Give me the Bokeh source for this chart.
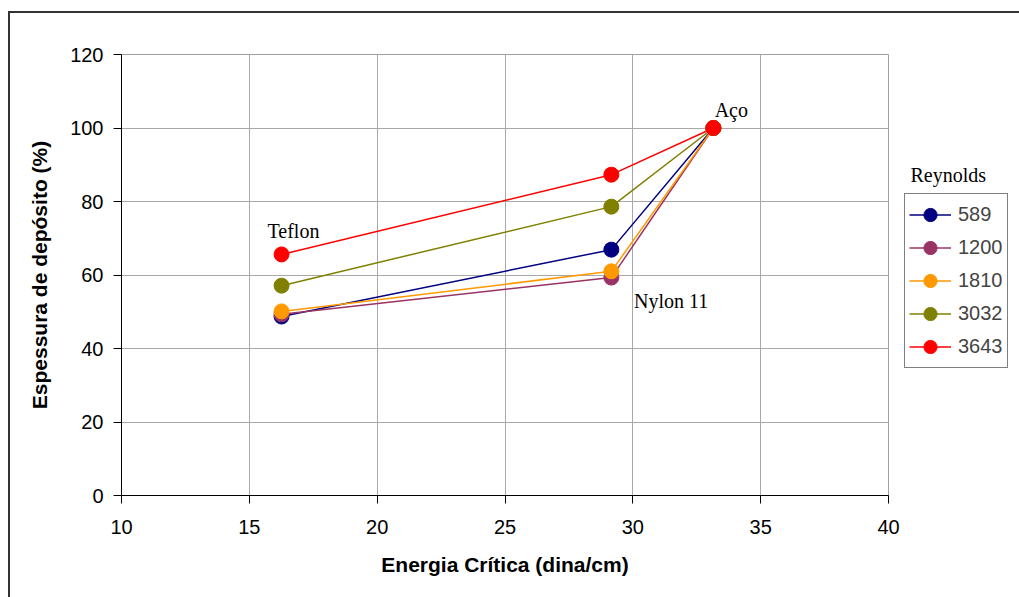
from bokeh.plotting import figure
from bokeh.models import Legend, LegendItem, Label, FixedTicker, Range1d
from bokeh.embed import file_html
from bokeh.resources import INLINE

energia = [16.26, 29.16, 33.15]
series_names = ["589", "1200", "1810", "3032", "3643"]
series_vals = {
    "589": [48.7, 66.9, 100.0],
    "1200": [49.3, 59.3, 100.0],
    "1810": [50.1, 61.0, 100.0],
    "3032": [57.1, 78.6, 100.0],
    "3643": [65.6, 87.3, 100.0],
}
colors = {"589": "#000080", "1200": "#993366", "1810": "#FF9900",
          "3032": "#808000", "3643": "#FF0000"}
x_ticks = [10, 15, 20, 25, 30, 35, 40]
y_ticks = [0, 20, 40, 60, 80, 100, 120]
material_labels = ["Teflon", "Nylon 11", "Aço"]
legend_title = "Reynolds"

p = figure(frame_width=767, frame_height=441, output_backend="svg",
           toolbar_location=None,
           x_range=Range1d(10, 40), y_range=Range1d(0, 120),
           min_border_left=111, min_border_right=131, min_border_top=41,
           min_border_bottom=102)
p.margin = (11, 0, 0, 8)
p.styles = {"border-left": "2px solid #333", "border-top": "2px solid #333"}
p.outline_line_color = "#a0a0a0"
p.background_fill_color = "white"

for ax in (p.xaxis, p.yaxis):
    ax.axis_line_color = "black"
    ax.axis_line_width = 1
    ax.major_tick_line_color = "black"
    ax.major_tick_out = 8
    ax.major_tick_in = 0
    ax.minor_tick_line_color = None
    ax.major_label_text_font = "Liberation Sans"
    ax.major_label_text_font_size = "20px"
    ax.major_label_text_color = "black"
    ax.axis_label_text_font = "Liberation Sans"
    ax.axis_label_text_font_size = "21px"
    ax.axis_label_text_font_style = "bold"
    ax.axis_label_text_color = "black"

p.xaxis.ticker = FixedTicker(ticks=x_ticks)
p.yaxis.ticker = FixedTicker(ticks=y_ticks)
p.xaxis.axis_label = "Energia Crítica (dina/cm)"
p.yaxis.axis_label = "Espessura de depósito (%)"
p.xaxis.major_label_standoff = 16
p.yaxis.major_label_standoff = 10
p.xaxis.axis_label_standoff = 16
p.yaxis.axis_label_standoff = 16

p.xgrid.grid_line_color = "#a8a8a8"
p.ygrid.grid_line_color = "#a8a8a8"

items = []
for name in series_names:
    c = colors[name]
    r1 = p.line(energia, series_vals[name], line_color=c, line_width=1.5)
    r2 = p.scatter(energia, series_vals[name], size=15, fill_color=c, line_color=c)
    items.append(LegendItem(label=name, renderers=[r1, r2]))

legend = Legend(items=items, location=(16, 127), orientation="vertical",
                label_text_font="Liberation Sans", label_text_font_size="20px",
                border_line_color="black", border_line_width=1,
                background_fill_color="white", glyph_width=42, glyph_height=33,
                label_height=24, spacing=0, padding=4, margin=0, label_standoff=7)
p.add_layout(legend, "right")

p.add_layout(Label(x=40.86, y=87.3, text=legend_title, text_font="Liberation Serif",
                   text_font_size="20px", text_color="black",
                   text_baseline="alphabetic"), "above")

lab_pos = [(15.71, 72.1), (30.05, 52.8), (33.2, 105.0)]
for txt, (lx, ly) in zip(material_labels, lab_pos):
    p.add_layout(Label(x=lx, y=ly, text=txt, text_font="Liberation Serif",
                       text_font_size="20px", text_color="black",
                       text_baseline="alphabetic"))

open("out.html", "w").write(file_html(p, INLINE))
